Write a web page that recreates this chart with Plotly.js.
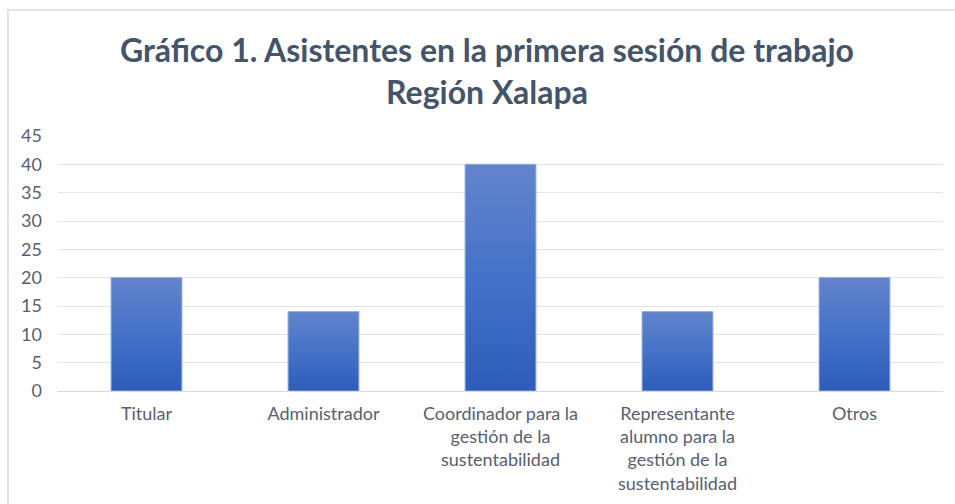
<!DOCTYPE html>
<html>
<head>
<meta charset="utf-8">
<script src="https://cdn.plot.ly/plotly-3.0.1.min.js"></script>
<style>
  html, body { margin: 0; padding: 0; background: #ffffff; }
  #wrap { position: relative; width: 955px; height: 504px; overflow: hidden; }
  #chart { position: absolute; left: 0; top: 0; width: 955px; height: 504px; }
  #frame { position: absolute; left: 7px; top: 9px; width: 1000px; height: 600px;
           border-top: 2px solid #dfe4ea; border-left: 2px solid #dfe4ea; pointer-events: none; }
</style>
</head>
<body>
<div id="wrap">
  <div id="chart"></div>
  <div id="frame"></div>
</div>
<script>
const categories = [
  "Titular",
  "Administrador",
  "Coordinador para la<br>gestión de la<br>sustentabilidad",
  "Representante<br>alumno para la<br>gestión de la<br>sustentabilidad",
  "Otros"
];
const asistentes = [20, 14, 40, 14, 20];
const yTicks = [0, 5, 10, 15, 20, 25, 30, 35, 40, 45];

const trace = {
  type: "bar",
  x: categories,
  y: asistentes,
  marker: { color: "#4472C4", line: { color: "#8ea7dc", width: 1 } },
  hoverinfo: "x+y"
};

const layout = {
  width: 955,
  height: 504,
  margin: { l: 58, r: 12, t: 136, b: 113 },
  paper_bgcolor: "#ffffff",
  plot_bgcolor: "#ffffff",
  font: { family: "Lato, 'Open Sans', sans-serif", color: "#596070", size: 18 },
  title: {
    text: "Gráfico 1. Asistentes en la primera sesión de trabajo<br>Región Xalapa",
    font: { family: "Lato, sans-serif", size: 32, color: "#44546A", weight: "bold" },
    xref: "container", x: 487 / 955, xanchor: "center",
    yref: "container", y: 1 - 62 / 504, yanchor: "top"
  },
  bargap: 0.6,
  showlegend: false,
  xaxis: {
    type: "category",
    showgrid: false,
    showline: true,
    linecolor: "#d9d9d9",
    linewidth: 1,
    ticks: "",
    tickfont: { size: 18, color: "#596070" },
    ticklabelstandoff: 6
  },
  yaxis: {
    range: [0, 45],
    tickvals: yTicks,
    ticktext: yTicks.map(String),
    showgrid: true,
    gridcolor: "#e3e3e8",
    gridwidth: 1,
    zeroline: false,
    showline: false,
    ticks: "",
    tickfont: { size: 18, color: "#596070" },
    ticklabelstandoff: 15
  }
};

Plotly.newPlot("chart", [trace], layout, { displayModeBar: false, staticPlot: true }).then(function (gd) {
  const svg = gd.querySelector("svg.main-svg");
  const ns = "http://www.w3.org/2000/svg";
  let defs = svg.querySelector("defs");
  if (!defs) { defs = document.createElementNS(ns, "defs"); svg.insertBefore(defs, svg.firstChild); }
  const grad = document.createElementNS(ns, "linearGradient");
  grad.setAttribute("id", "barGrad");
  grad.setAttribute("x1", "0"); grad.setAttribute("y1", "0");
  grad.setAttribute("x2", "0"); grad.setAttribute("y2", "1");
  [["0", "#6384cb"], ["0.5", "#4472c8"], ["1", "#2d5db9"]].forEach(function (s) {
    const st = document.createElementNS(ns, "stop");
    st.setAttribute("offset", s[0]);
    st.setAttribute("stop-color", s[1]);
    grad.appendChild(st);
  });
  defs.appendChild(grad);
  gd.querySelectorAll(".barlayer .point path").forEach(function (p) {
    p.style.fill = "url(#barGrad)";
  });
});
</script>
</body>
</html>
